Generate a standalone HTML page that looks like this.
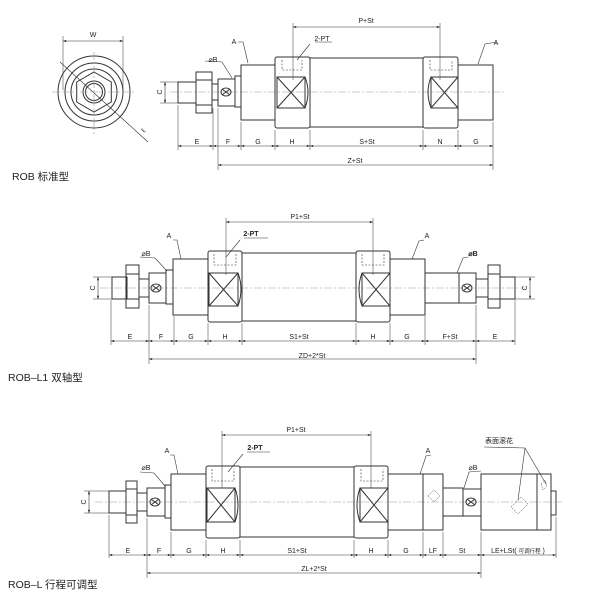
<!DOCTYPE html>
<html><head><meta charset="utf-8"><style>
html,body{margin:0;padding:0;background:#fff;width:600px;height:600px;overflow:hidden}
svg{display:block}
text{font-family:"Liberation Sans","Noto Sans CJK SC",sans-serif;fill:#222}
</style></head><body>
<svg width="600" height="600" viewBox="0 0 600 600" xmlns="http://www.w3.org/2000/svg">
<defs>
<marker id="a" viewBox="0 0 8 6" refX="8" refY="3" markerWidth="6" markerHeight="4" orient="auto-start-reverse"><path d="M0,0L8,3L0,6z" fill="#333"/></marker>
</defs>
<g fill="none" stroke="#333" stroke-width="1">
<!-- ===== FRONT VIEW ===== -->
<circle cx="94" cy="92" r="36"/>
<circle cx="94" cy="92" r="29"/>
<circle cx="94" cy="92" r="23"/>
<polygon points="94,72 111.3,82 111.3,102 94,112 76.7,102 76.7,82"/>
<circle cx="94" cy="92" r="11"/>
<circle cx="94" cy="92" r="8.5"/>
<g stroke="#999" stroke-width="0.6" stroke-dasharray="8 2 2 2">
<line x1="52" y1="92" x2="136" y2="92"/><line x1="94" y1="52" x2="94" y2="134"/>
</g>
<line x1="63" y1="36" x2="63" y2="90" stroke-width="0.5"/>
<line x1="123" y1="36" x2="123" y2="90" stroke-width="0.5"/>
<line x1="63" y1="41" x2="123" y2="41" stroke-width="0.6" marker-start="url(#a)" marker-end="url(#a)"/>
<line x1="60" y1="62" x2="148" y2="142" stroke-width="0.6"/>

<!-- ===== SIDE VIEW 1 ===== -->
<g stroke="#999" stroke-width="0.6" stroke-dasharray="8 2 2 2"><line x1="170" y1="92" x2="505" y2="92"/></g>
<rect x="178" y="82" width="18" height="21"/>
<rect x="196" y="72" width="16" height="41"/>
<line x1="196" y1="80" x2="212" y2="80"/><line x1="196" y1="105" x2="212" y2="105"/>
<rect x="212" y="84" width="6" height="16"/>
<rect x="218" y="79" width="17" height="27"/>
<ellipse cx="226" cy="92" rx="5" ry="4"/><path d="M222,89L230,95M222,95L230,89"/>
<rect x="235" y="76" width="6" height="31"/>
<rect x="241" y="65" width="34" height="55"/>
<rect x="275" y="57" width="35" height="71" rx="2"/>
<rect x="310" y="58" width="113" height="69"/>
<rect x="423" y="57" width="35" height="71" rx="2"/>
<rect x="458" y="65" width="35" height="55"/>
<rect x="277" y="77" width="28" height="31"/><path d="M277,77L305,108M277,108L305,77"/>
<path d="M305,77Q311,92 305,108"/>
<rect x="431" y="77" width="27" height="31"/><path d="M431,77L458,108M431,108L458,77"/>
<path d="M431,77Q425,92 431,108"/>
<path d="M282,60L282,70L302,70L302,60" stroke-dasharray="2 1.5" stroke-width="0.6"/>
<path d="M430,60L430,70L452,70L452,60" stroke-dasharray="2 1.5" stroke-width="0.6"/>
<!-- C dim -->
<line x1="160" y1="82" x2="180" y2="82" stroke-width="0.5"/><line x1="160" y1="103" x2="180" y2="103" stroke-width="0.5"/>
<line x1="165" y1="82" x2="165" y2="103" stroke-width="0.6" marker-start="url(#a)" marker-end="url(#a)"/>
<!-- leaders -->
<path d="M238,42L243,42L248,63" stroke-width="0.6"/>
<path d="M205,61L222,62L232,78" stroke-width="0.6"/>
<path d="M315,42L332,42" stroke-width="0.6"/><path d="M310,44L297,60" stroke-width="0.6"/>
<path d="M497,42L485,44L478,64" stroke-width="0.6"/>
<!-- ext lines -->
<g stroke-width="0.5">
<line x1="178" y1="105" x2="178" y2="150"/><line x1="213" y1="108" x2="213" y2="150"/>
<line x1="218" y1="108" x2="218" y2="170"/><line x1="241" y1="122" x2="241" y2="150"/>
<line x1="275" y1="130" x2="275" y2="150"/><line x1="310" y1="130" x2="310" y2="150"/>
<line x1="423" y1="130" x2="423" y2="150"/><line x1="458" y1="130" x2="458" y2="150"/>
<line x1="493" y1="122" x2="493" y2="170"/>
<line x1="293" y1="23" x2="293" y2="80"/><line x1="440" y1="23" x2="440" y2="80"/>
</g>
<g stroke-width="0.6">
<line x1="178" y1="146" x2="213" y2="146" marker-start="url(#a)" marker-end="url(#a)"/>
<line x1="213" y1="146" x2="241" y2="146" marker-start="url(#a)" marker-end="url(#a)"/>
<line x1="241" y1="146" x2="275" y2="146" marker-start="url(#a)" marker-end="url(#a)"/>
<line x1="275" y1="146" x2="310" y2="146" marker-start="url(#a)" marker-end="url(#a)"/>
<line x1="310" y1="146" x2="423" y2="146" marker-start="url(#a)" marker-end="url(#a)"/>
<line x1="423" y1="146" x2="458" y2="146" marker-start="url(#a)" marker-end="url(#a)"/>
<line x1="458" y1="146" x2="493" y2="146" marker-start="url(#a)" marker-end="url(#a)"/>
<line x1="218" y1="165" x2="493" y2="165" marker-start="url(#a)" marker-end="url(#a)"/>
<line x1="293" y1="27" x2="440" y2="27" marker-start="url(#a)" marker-end="url(#a)"/>
</g>

<!-- ===== SIDE VIEW 2 ===== -->
<g stroke="#999" stroke-width="0.6" stroke-dasharray="8 2 2 2"><line x1="100" y1="288" x2="525" y2="288"/></g>
<rect x="112" y="277" width="15" height="22"/>
<rect x="126" y="265" width="13" height="43"/>
<line x1="126" y1="274" x2="139" y2="274"/><line x1="126" y1="299" x2="139" y2="299"/>
<rect x="139" y="279" width="10" height="18"/>
<rect x="149" y="273" width="17" height="30"/>
<ellipse cx="156" cy="288" rx="5" ry="4"/><path d="M152,285L160,291M152,291L160,285"/>
<rect x="166" y="270" width="7" height="34"/>
<rect x="173" y="259" width="35" height="56"/>
<rect x="208" y="251" width="34" height="71" rx="2"/>
<rect x="242" y="253" width="114" height="68"/>
<rect x="356" y="251" width="34" height="71" rx="2"/>
<rect x="390" y="259" width="35" height="56"/>
<rect x="425" y="273" width="34" height="30"/>
<rect x="459" y="273" width="17" height="30"/>
<ellipse cx="467" cy="288" rx="5" ry="4"/><path d="M463,285L471,291M463,291L471,285"/>
<rect x="476" y="279" width="12" height="18"/>
<rect x="488" y="265" width="12" height="43"/>
<line x1="488" y1="274" x2="500" y2="274"/><line x1="488" y1="299" x2="500" y2="299"/>
<rect x="500" y="277" width="15" height="22"/>
<rect x="209" y="273" width="29" height="33"/><path d="M209,273L238,306M209,306L238,273"/>
<path d="M238,273Q244,289 238,306"/>
<rect x="362" y="273" width="28" height="33"/><path d="M362,273L390,306M362,306L390,273"/>
<path d="M362,273Q356,289 362,306"/>
<path d="M214,254L214,265L236,265L236,254" stroke-dasharray="2 1.5" stroke-width="0.6"/>
<path d="M362,254L362,265L384,265L384,254" stroke-dasharray="2 1.5" stroke-width="0.6"/>
<line x1="93" y1="277" x2="112" y2="277" stroke-width="0.5"/><line x1="93" y1="299" x2="112" y2="299" stroke-width="0.5"/>
<line x1="98" y1="277" x2="98" y2="299" stroke-width="0.6" marker-start="url(#a)" marker-end="url(#a)"/>
<line x1="515" y1="277" x2="535" y2="277" stroke-width="0.5"/><line x1="515" y1="299" x2="535" y2="299" stroke-width="0.5"/>
<line x1="530" y1="277" x2="530" y2="299" stroke-width="0.6" marker-start="url(#a)" marker-end="url(#a)"/>
<path d="M173,240L177,240L181,259" stroke-width="0.6"/>
<path d="M140,257L155,258L167,271" stroke-width="0.6"/>
<path d="M244,238L268,238" stroke-width="0.6"/><path d="M240,240L226,257" stroke-width="0.6"/>
<path d="M424,240L419,241L412,259" stroke-width="0.6"/>
<path d="M468,257L463,258L457,273" stroke-width="0.6"/>
<g stroke-width="0.5">
<line x1="111" y1="300" x2="111" y2="345"/><line x1="149" y1="305" x2="149" y2="364"/>
<line x1="174" y1="316" x2="174" y2="345"/><line x1="208" y1="323" x2="208" y2="345"/>
<line x1="242" y1="323" x2="242" y2="345"/><line x1="356" y1="323" x2="356" y2="345"/>
<line x1="390" y1="323" x2="390" y2="345"/><line x1="425" y1="316" x2="425" y2="345"/>
<line x1="476" y1="305" x2="476" y2="364"/><line x1="515" y1="300" x2="515" y2="345"/>
<line x1="226" y1="218" x2="226" y2="275"/><line x1="373" y1="218" x2="373" y2="275"/>
</g>
<g stroke-width="0.6">
<line x1="111" y1="341" x2="149" y2="341" marker-start="url(#a)" marker-end="url(#a)"/>
<line x1="149" y1="341" x2="174" y2="341" marker-start="url(#a)" marker-end="url(#a)"/>
<line x1="174" y1="341" x2="208" y2="341" marker-start="url(#a)" marker-end="url(#a)"/>
<line x1="208" y1="341" x2="242" y2="341" marker-start="url(#a)" marker-end="url(#a)"/>
<line x1="242" y1="341" x2="356" y2="341" marker-start="url(#a)" marker-end="url(#a)"/>
<line x1="356" y1="341" x2="390" y2="341" marker-start="url(#a)" marker-end="url(#a)"/>
<line x1="390" y1="341" x2="425" y2="341" marker-start="url(#a)" marker-end="url(#a)"/>
<line x1="425" y1="341" x2="476" y2="341" marker-start="url(#a)" marker-end="url(#a)"/>
<line x1="476" y1="341" x2="515" y2="341" marker-start="url(#a)" marker-end="url(#a)"/>
<line x1="149" y1="359" x2="476" y2="359" marker-start="url(#a)" marker-end="url(#a)"/>
<line x1="226" y1="222" x2="373" y2="222" marker-start="url(#a)" marker-end="url(#a)"/>
</g>

<!-- ===== SIDE VIEW 3 ===== -->
<g stroke="#999" stroke-width="0.6" stroke-dasharray="8 2 2 2"><line x1="95" y1="502" x2="562" y2="502"/></g>
<rect x="109" y="491" width="17" height="22"/>
<rect x="126" y="481" width="11" height="42"/>
<line x1="126" y1="489" x2="137" y2="489"/><line x1="126" y1="515" x2="137" y2="515"/>
<rect x="137" y="493" width="10" height="18"/>
<rect x="147" y="488" width="18" height="28"/>
<ellipse cx="155" cy="502" rx="5" ry="4"/><path d="M151,499L159,505M151,505L159,499"/>
<rect x="165" y="485" width="6" height="33"/>
<rect x="171" y="474" width="35" height="56"/>
<rect x="206" y="466" width="34" height="72" rx="2"/>
<rect x="240" y="467" width="114" height="70"/>
<rect x="354" y="466" width="34" height="72" rx="2"/>
<rect x="388" y="474" width="35" height="56"/>
<rect x="423" y="474" width="20" height="56"/>
<rect x="443" y="488" width="20" height="28"/>
<rect x="463" y="489" width="18" height="27"/>
<ellipse cx="471" cy="502" rx="5" ry="4"/><path d="M467,499L475,505M467,505L475,499"/>
<rect x="481" y="474" width="56" height="56"/>
<rect x="537" y="474" width="14" height="56"/>
<rect x="551" y="491" width="5" height="24"/>
<rect x="207" y="488" width="28" height="34"/><path d="M207,488L235,522M207,522L235,488"/>
<path d="M235,488Q241,505 235,522"/>
<rect x="360" y="488" width="28" height="34"/><path d="M360,488L388,522M360,522L388,488"/>
<path d="M360,488Q354,505 360,522"/>
<path d="M212,469L212,481L234,481L234,469" stroke-dasharray="2 1.5" stroke-width="0.6"/>
<path d="M361,469L361,481L383,481L383,469" stroke-dasharray="2 1.5" stroke-width="0.6"/>
<g stroke-width="0.5" stroke-dasharray="1.5 1">
<path d="M428,496L434,490L440,496L434,502z"/><path d="M511,507L521,497L528,504L518,514z"/><path d="M541,484L545,480L547,486L543,490z"/>
</g>
<line x1="84" y1="491" x2="109" y2="491" stroke-width="0.5"/><line x1="84" y1="513" x2="109" y2="513" stroke-width="0.5"/>
<line x1="89" y1="491" x2="89" y2="513" stroke-width="0.6" marker-start="url(#a)" marker-end="url(#a)"/>
<path d="M170,455L174,455L178,474" stroke-width="0.6"/>
<path d="M140,472L154,473L165,486" stroke-width="0.6"/>
<path d="M247,452L270,452" stroke-width="0.6"/><path d="M243,454L228,472" stroke-width="0.6"/>
<path d="M431,455L426,456L420,474" stroke-width="0.6"/>
<path d="M481,471L469,472L464,488" stroke-width="0.6"/>
<path d="M484,447L525,448L518,500M525,448L546,484" stroke-width="0.6"/>
<g stroke-width="0.5">
<line x1="109" y1="515" x2="109" y2="558"/><line x1="147" y1="518" x2="147" y2="578"/>
<line x1="171" y1="532" x2="171" y2="558"/><line x1="206" y1="540" x2="206" y2="558"/>
<line x1="240" y1="540" x2="240" y2="558"/><line x1="354" y1="540" x2="354" y2="558"/>
<line x1="388" y1="540" x2="388" y2="558"/><line x1="423" y1="532" x2="423" y2="558"/>
<line x1="443" y1="532" x2="443" y2="558"/><line x1="481" y1="532" x2="481" y2="578"/>
<line x1="556" y1="517" x2="556" y2="558"/>
<line x1="222" y1="431" x2="222" y2="488"/><line x1="371" y1="431" x2="371" y2="488"/>
</g>
<g stroke-width="0.6">
<line x1="109" y1="555" x2="147" y2="555" marker-start="url(#a)" marker-end="url(#a)"/>
<line x1="147" y1="555" x2="171" y2="555" marker-start="url(#a)" marker-end="url(#a)"/>
<line x1="171" y1="555" x2="206" y2="555" marker-start="url(#a)" marker-end="url(#a)"/>
<line x1="206" y1="555" x2="240" y2="555" marker-start="url(#a)" marker-end="url(#a)"/>
<line x1="240" y1="555" x2="354" y2="555" marker-start="url(#a)" marker-end="url(#a)"/>
<line x1="354" y1="555" x2="388" y2="555" marker-start="url(#a)" marker-end="url(#a)"/>
<line x1="388" y1="555" x2="423" y2="555" marker-start="url(#a)" marker-end="url(#a)"/>
<line x1="423" y1="555" x2="443" y2="555" marker-start="url(#a)" marker-end="url(#a)"/>
<line x1="443" y1="555" x2="481" y2="555" marker-start="url(#a)" marker-end="url(#a)"/>
<line x1="481" y1="555" x2="556" y2="555" marker-start="url(#a)" marker-end="url(#a)"/>
<line x1="147" y1="573" x2="481" y2="573" marker-start="url(#a)" marker-end="url(#a)"/>
<line x1="222" y1="435" x2="371" y2="435" marker-start="url(#a)" marker-end="url(#a)"/>
</g>
</g>

<!-- TEXT -->
<g font-size="7" text-anchor="middle">
<text x="93" y="37">W</text>
<text x="145" y="132" transform="rotate(-50 145 132)">ℓ</text>
<text x="162" y="92" transform="rotate(-90 162 92)">C</text>
<text x="234" y="44">A</text>
<text x="213" y="62">⌀B</text>
<text x="322" y="41">2-PT</text>
<text x="496" y="45">A</text>
<text x="366" y="23">P+St</text>
<text x="197" y="144">E</text>
<text x="228" y="144">F</text>
<text x="258" y="144">G</text>
<text x="292" y="144">H</text>
<text x="367" y="144">S+St</text>
<text x="440" y="144">N</text>
<text x="476" y="144">G</text>
<text x="355" y="163">Z+St</text>

<text x="95" y="288" transform="rotate(-90 95 288)">C</text>
<text x="527" y="288" transform="rotate(-90 527 288)">C</text>
<text x="169" y="238">A</text>
<text x="146" y="256">⌀B</text>
<text x="251" y="236" font-weight="bold">2-PT</text>
<text x="427" y="238">A</text>
<text x="473" y="256" font-weight="bold">⌀B</text>
<text x="300" y="219">P1+St</text>
<text x="130" y="339">E</text>
<text x="161" y="339">F</text>
<text x="191" y="339">G</text>
<text x="225" y="339">H</text>
<text x="299" y="339">S1+St</text>
<text x="373" y="339">H</text>
<text x="407" y="339">G</text>
<text x="450" y="339">F+St</text>
<text x="495" y="339">E</text>
<text x="312" y="358">ZD+2*St</text>

<text x="86" y="502" transform="rotate(-90 86 502)">C</text>
<text x="167" y="453">A</text>
<text x="146" y="470">⌀B</text>
<text x="255" y="450" font-weight="bold">2-PT</text>
<text x="428" y="453">A</text>
<text x="473" y="470">⌀B</text>
<text x="499" y="443">表面滚花</text>
<text x="296" y="432">P1+St</text>
<text x="128" y="553">E</text>
<text x="159" y="553">F</text>
<text x="189" y="553">G</text>
<text x="223" y="553">H</text>
<text x="297" y="553">S1+St</text>
<text x="371" y="553">H</text>
<text x="406" y="553">G</text>
<text x="433" y="553">LF</text>
<text x="462" y="553">St</text>
<text x="518" y="553">LE+LSt( <tspan font-size="5.5">可调行程</tspan> )</text>
<text x="314" y="571">ZL+2*St</text>
</g>
<g font-size="10.5">
<text x="12" y="180">ROB  标准型</text>
<text x="8" y="381">ROB–L1  双轴型</text>
<text x="8" y="588">ROB–L  行程可调型</text>
</g>
</svg>
</body></html>
